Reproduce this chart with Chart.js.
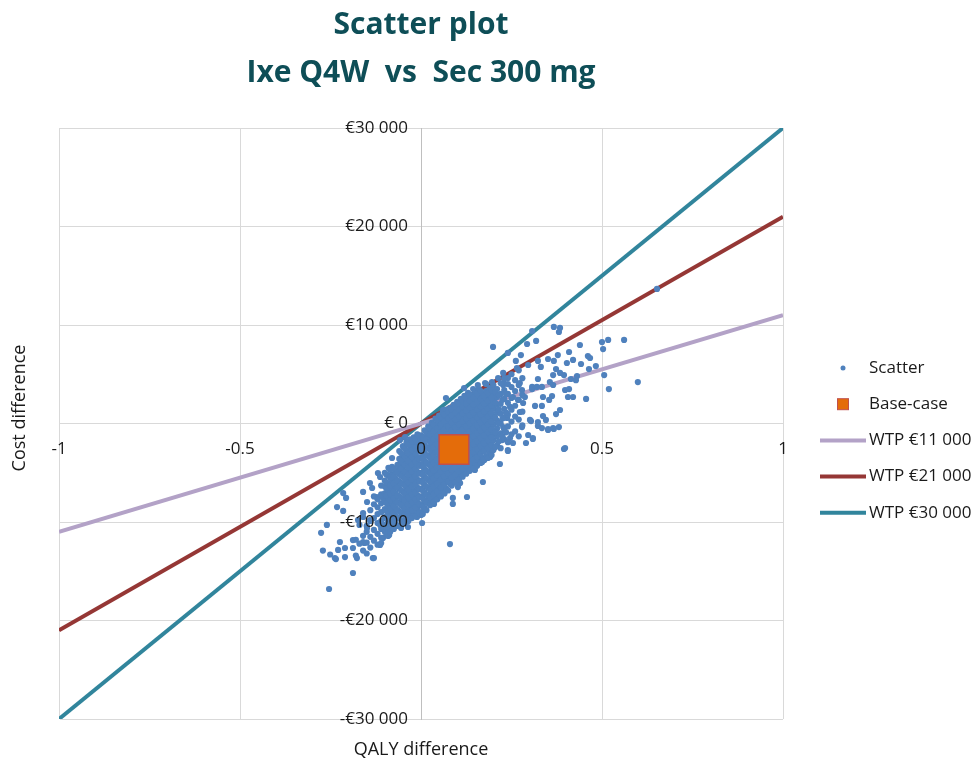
<!DOCTYPE html>
<html>
<head>
<meta charset="utf-8">
<title>Scatter plot - Ixe Q4W vs Sec 300 mg</title>
<script src="https://cdn.jsdelivr.net/npm/chart.js@4.4.1/dist/chart.umd.min.js"></script>
<style>
  html, body { margin: 0; padding: 0; background: #fff; }
</style>
</head>
<body>
<canvas id="psaChart" width="975" height="761"></canvas>
<script>
// PSA scatter plot, incremental QALY vs incremental cost

const chartTitle = ['Scatter plot', 'Ixe Q4W  vs  Sec 300 mg'];
const xAxisTitle = 'QALY difference';
const yAxisTitle = 'Cost difference';

const qalyTicks = [-1, -0.5, 0, 0.5, 1];
const costTicks = [-30000, -20000, -10000, 0, 10000, 20000, 30000];
const costTickLabels = ['-€30 000', '-€20 000', '-€10 000', '€ 0', '€10 000', '€20 000', '€30 000'];

const baseCase = [0.091, -2640];

const wtpNames = ['WTP €11 000', 'WTP €21 000', 'WTP €30 000'];
const wtpColors = ['#B3A2C7', '#953735', '#31859C'];
// each threshold line, its ends at QALY -1 and +1
const wtpLines = [
  [[-1, -11000], [1, 11000]],
  [[-1, -21000], [1, 21000]],
  [[-1, -30000], [1, 30000]]
];

// simulation runs: [QALY diff, cost diff in thousand €]
const psaRuns = [
  // sparse runs, upper right
  [0.652,13.66],[0.367,9.80],[0.384,9.70],[0.381,9.29],[0.307,9.39],[0.500,8.27],[0.517,8.48],[0.561,8.48],
  [0.503,7.56],[0.599,4.21],[0.519,3.50],[0.506,4.92],[0.293,8.07],[0.318,8.38],[0.439,7.97],[0.409,7.26],
  [0.378,6.95],[0.351,6.55],[0.262,6.35],[0.276,6.95],[0.296,5.94],[0.323,6.35],[0.367,6.35],[0.403,6.14],
  [0.420,6.45],[0.442,6.04],[0.461,6.85],[0.467,6.65],[0.464,5.53],[0.483,5.84],[0.240,7.16],[0.331,5.74],
  [0.373,5.53],[0.384,5.13],[0.395,4.92],[0.414,4.52],[0.431,4.82],[0.428,4.40],[0.365,4.92],[0.323,4.52],
  [0.356,4.21],[0.365,3.91],[0.307,3.71],[0.334,3.71],[0.398,3.40],[0.409,3.50],[0.406,2.69],[0.420,2.69],
  [0.456,2.49],[0.337,2.69],[0.362,2.79],[0.354,2.39],[0.315,1.78],[0.334,1.78],[0.337,0.76],[0.373,0.96],
  [0.384,1.37],[0.345,0.36],[0.351,-0.56],[0.367,-0.56],[0.381,-0.36],[0.309,-1.57],[0.304,0.25],[0.323,-0.25],
  [0.395,-2.59],[0.290,-1.98],[0.240,-2.69],[0.218,-4.11],
  [0.199,7.77],[0.069,2.59],[0.144,3.50],[0.157,3.91],[0.196,4.21],[0.213,4.62],[0.227,3.91],[0.119,3.60],
  [0.061,1.37],[0.080,1.07],[0.014,-1.37],[0.028,-1.07],
  [0.227,5.13],[0.177,4.11],[0.229,4.11],[0.240,4.62],[0.265,5.63],[0.273,4.11],[0.279,3.40],[0.287,2.69],
  [0.307,3.50],[0.320,3.71],[0.268,2.39],[0.282,2.08],[0.273,1.17],[0.254,2.69],[0.246,1.68],[0.238,0.56],
  [0.227,-0.36],[0.210,-1.17],[0.224,-1.68],[0.191,-2.69],[0.182,-3.40],[0.246,-1.47],[0.254,-1.98],[0.296,-1.17],
  [0.279,-0.36],[0.301,0.36],[0.309,-1.47],[0.334,-0.46],[0.351,-0.66],[0.365,-0.46],[0.398,-2.49],[0.323,0.15],
  [-0.058,-1.68],[-0.044,-1.37],[0.025,-0.66],[0.033,-0.46],[0.058,0.66],[0.072,0.36],[0.122,2.59],[0.141,2.89],
  [0.155,3.20],[0.099,1.88],
  // lower tail
  [-0.215,-7.06],[-0.232,-8.48],[-0.207,-7.56],[-0.160,-6.95],[-0.141,-6.04],[-0.119,-5.03],[-0.113,-5.43],
  [-0.135,-6.55],[-0.122,-7.46],[-0.105,-7.56],[-0.149,-7.97],[-0.160,-9.49],[-0.174,-9.80],[-0.141,-9.80],
  [-0.149,-10.61],[-0.113,-10.30],[-0.091,-10.51],[-0.224,-12.03],[-0.210,-12.64],[-0.229,-12.84],[-0.188,-12.64],
  [-0.160,-12.03],[-0.105,-11.62],[-0.091,-11.42],[-0.113,-12.33],[-0.238,-13.66],[-0.210,-13.56],[-0.177,-13.66],
  [-0.133,-13.66],[-0.188,-15.18],[-0.036,-10.51],[-0.052,-8.07],[-0.030,-7.46],[-0.011,-9.49],[0.003,-8.27],
  [0.003,-10.10],[-0.254,-16.80],[-0.130,-13.66],[0.080,-12.24],[-0.276,-11.10],[-0.260,-10.30],[-0.271,-12.90],
  [-0.251,-13.30],[-0.235,-13.76],[-0.188,-11.83],[-0.157,-12.13],[-0.110,-12.13],[-0.088,-11.32],[-0.030,-9.59],
  [0.000,-9.29],[-0.006,-8.38],[-0.215,-8.88],[0.036,-8.17],[0.025,-7.67],[0.061,-6.85],[0.088,-7.56],[0.088,-8.17],
  [0.127,-7.46],[0.171,-5.94],[0.240,-2.79],[0.191,-3.40],[0.169,-3.91],[0.144,-4.21],[0.149,-4.72],[0.108,-6.04],
  [0.102,-6.45],[0.061,-6.75],[0.044,-7.56],[0.033,-7.77],
  // dense core
  [-0.18,-13.4],[-0.18,-11.8],[-0.17,-12.2],[-0.17,-10.3],[-0.16,-12.9],[-0.16,-11.4],[-0.16,-9.1],
  [-0.15,-13.2],[-0.15,-12.1],[-0.15,-11.0],[-0.15,-10.4],
  [-0.14,-12.6],[-0.14,-11.5],[-0.14,-9.9],[-0.14,-8.8],
  [-0.13,-11.9],[-0.13,-10.8],[-0.13,-9.6],[-0.13,-8.2],[-0.13,-7.4],
  [-0.12,-12.3],[-0.12,-11.2],[-0.12,-10.1],[-0.12,-9.2],[-0.12,-8.5],[-0.12,-7.7],
  [-0.11,-11.6],[-0.11,-10.7],[-0.11,-9.9],[-0.11,-9.0],[-0.11,-8.1],[-0.11,-7.2],[-0.11,-6.3],
  [-0.10,-11.0],[-0.10,-10.3],[-0.10,-9.5],[-0.10,-8.7],[-0.10,-7.9],[-0.10,-7.1],[-0.10,-6.4],[-0.10,-5.8],[-0.10,-5.0],
  [-0.09,-10.8],[-0.09,-10.0],[-0.09,-9.2],[-0.09,-8.4],[-0.09,-7.6],[-0.09,-6.9],[-0.09,-6.1],[-0.09,-5.3],[-0.09,-4.5],
  [-0.08,-10.5],[-0.08,-9.7],[-0.08,-8.9],[-0.08,-8.2],[-0.08,-7.4],[-0.08,-6.7],[-0.08,-5.9],[-0.08,-5.2],[-0.08,-4.4],[-0.08,-3.5],
  [-0.07,-10.2],[-0.07,-9.4],[-0.07,-8.6],[-0.07,-7.8],[-0.07,-7.1],[-0.07,-6.3],[-0.07,-5.6],[-0.07,-4.8],
  [-0.06,-10.4],[-0.06,-9.6],[-0.06,-8.9],[-0.06,-8.1],[-0.06,-7.4],[-0.06,-6.6],[-0.06,-5.9],[-0.06,-5.1],[-0.06,-4.4],[-0.06,-3.6],[-0.06,-2.8],
  [-0.05,-9.9],[-0.05,-9.1],[-0.05,-8.4],[-0.05,-7.6],[-0.05,-6.9],[-0.05,-6.1],[-0.05,-5.4],[-0.05,-4.7],[-0.05,-4.0],[-0.05,-3.2],[-0.05,-2.3],
  [-0.04,-9.7],[-0.04,-8.8],[-0.04,-8.0],[-0.04,-7.3],[-0.04,-6.5],[-0.04,-5.8],[-0.04,-5.0],[-0.04,-4.3],[-0.04,-3.6],[-0.04,-2.8],[-0.04,-1.9],
  [-0.03,-9.4],[-0.03,-8.6],[-0.03,-7.8],[-0.03,-7.0],[-0.03,-6.2],[-0.03,-5.5],[-0.03,-4.7],[-0.03,-4.0],[-0.03,-3.2],[-0.03,-2.5],[-0.03,-1.6],
  [-0.02,-9.2],[-0.02,-8.3],[-0.02,-7.5],[-0.02,-6.8],[-0.02,-6.0],[-0.02,-5.2],[-0.02,-4.4],[-0.02,-3.7],[-0.02,-2.9],[-0.02,-2.2],[-0.02,-1.4],
  [-0.01,-8.9],[-0.01,-8.0],[-0.01,-7.3],[-0.01,-6.5],[-0.01,-5.7],[-0.01,-4.9],[-0.01,-4.1],[-0.01,-3.4],[-0.01,-2.6],[-0.01,-1.9],[-0.01,-1.1],
  [0.00,-9.0],[0.00,-8.2],[0.00,-7.4],[0.00,-6.6],[0.00,-5.8],[0.00,-5.0],[0.00,-4.2],[0.00,-3.4],[0.00,-2.6],[0.00,-1.8],[0.00,-1.2],
  [0.01,-8.6],[0.01,-7.8],[0.01,-7.0],[0.01,-6.2],[0.01,-5.4],[0.01,-4.6],[0.01,-3.8],[0.01,-3.0],[0.01,-2.2],[0.01,-1.4],[0.01,-0.7],
  [0.02,-8.1],[0.02,-7.3],[0.02,-6.5],[0.02,-5.7],[0.02,-4.9],[0.02,-4.1],[0.02,-3.3],[0.02,-2.5],[0.02,-1.7],[0.02,-0.9],[0.02,-0.3],
  [0.03,-7.8],[0.03,-7.0],[0.03,-6.2],[0.03,-5.4],[0.03,-4.6],[0.03,-3.8],[0.03,-3.0],[0.03,-2.2],[0.03,-1.4],[0.03,-0.6],[0.03,0.1],
  [0.04,-7.5],[0.04,-6.7],[0.04,-5.9],[0.04,-5.1],[0.04,-4.3],[0.04,-3.5],[0.04,-2.7],[0.04,-1.9],[0.04,-1.1],[0.04,-0.3],[0.04,0.5],
  [0.05,-7.2],[0.05,-6.3],[0.05,-5.5],[0.05,-4.7],[0.05,-3.9],[0.05,-3.1],[0.05,-2.3],[0.05,-1.5],[0.05,-0.7],[0.05,0.1],[0.05,0.8],
  [0.06,-6.9],[0.06,-6.0],[0.06,-5.2],[0.06,-4.4],[0.06,-3.6],[0.06,-2.8],[0.06,-2.0],[0.06,-1.2],[0.06,-0.4],[0.06,0.4],[0.06,1.1],
  [0.07,-6.6],[0.07,-5.7],[0.07,-4.9],[0.07,-4.1],[0.07,-3.3],[0.07,-2.5],[0.07,-1.7],[0.07,-0.9],[0.07,-0.1],[0.07,0.7],[0.07,1.4],
  [0.08,-6.1],[0.08,-5.3],[0.08,-4.5],[0.08,-3.7],[0.08,-2.9],[0.08,-2.1],[0.08,-1.3],[0.08,-0.5],[0.08,0.3],[0.08,1.0],[0.08,1.6],
  [0.09,-5.8],[0.09,-5.0],[0.09,-4.2],[0.09,-3.4],[0.09,-2.6],[0.09,-1.8],[0.09,-1.0],[0.09,-0.2],[0.09,0.6],[0.09,1.3],[0.09,1.9],
  [0.10,-5.5],[0.10,-4.7],[0.10,-3.9],[0.10,-3.1],[0.10,-2.3],[0.10,-1.5],[0.10,-0.7],[0.10,0.1],[0.10,0.9],[0.10,1.6],[0.10,2.2],
  [0.11,-5.2],[0.11,-4.4],[0.11,-3.6],[0.11,-2.8],[0.11,-2.0],[0.11,-1.2],[0.11,-0.4],[0.11,0.4],[0.11,1.2],[0.11,1.9],[0.11,2.5],
  [0.12,-4.9],[0.12,-4.1],[0.12,-3.3],[0.12,-2.5],[0.12,-1.7],[0.12,-0.9],[0.12,-0.1],[0.12,0.7],[0.12,1.5],[0.12,2.2],[0.12,2.8],
  [0.13,-4.6],[0.13,-3.8],[0.13,-3.0],[0.13,-2.2],[0.13,-1.4],[0.13,-0.6],[0.13,0.2],[0.13,1.0],[0.13,1.8],[0.13,2.5],[0.13,3.1],
  [0.14,-4.4],[0.14,-3.5],[0.14,-2.7],[0.14,-1.9],[0.14,-1.1],[0.14,-0.3],[0.14,0.5],[0.14,1.3],[0.14,2.1],[0.14,2.8],
  [0.15,-4.1],[0.15,-3.2],[0.15,-2.4],[0.15,-1.6],[0.15,-0.8],[0.15,0.0],[0.15,0.8],[0.15,1.6],[0.15,2.4],[0.15,3.2],
  [0.16,-3.8],[0.16,-2.9],[0.16,-2.1],[0.16,-1.3],[0.16,-0.5],[0.16,0.3],[0.16,1.1],[0.16,1.9],[0.16,2.7],[0.16,3.5],
  [0.17,-3.5],[0.17,-2.6],[0.17,-1.8],[0.17,-1.0],[0.17,-0.2],[0.17,0.6],[0.17,1.4],[0.17,2.2],[0.17,3.0],
  [0.18,-3.3],[0.18,-2.3],[0.18,-1.5],[0.18,-0.7],[0.18,0.1],[0.18,0.9],[0.18,1.7],[0.18,2.5],[0.18,3.3],[0.18,4.0],
  [0.19,-3.0],[0.19,-2.0],[0.19,-1.2],[0.19,-0.4],[0.19,0.4],[0.19,1.2],[0.19,2.0],[0.19,2.8],[0.19,3.6],
  [0.20,-2.7],[0.20,-1.7],[0.20,-0.9],[0.20,-0.1],[0.20,0.7],[0.20,1.5],[0.20,2.3],[0.20,3.1],[0.20,3.9],
  [0.21,-2.2],[0.21,-1.3],[0.21,-0.5],[0.21,0.3],[0.21,1.1],[0.21,1.9],[0.21,2.7],[0.21,3.5],
  [0.22,-2.5],[0.22,-1.0],[0.22,0.0],[0.22,1.0],[0.22,2.0],[0.22,3.0],[0.22,4.1],
  [0.23,-1.6],[0.23,-0.6],[0.23,0.6],[0.23,1.5],[0.23,2.5],[0.23,3.4],[0.23,4.6],
  [0.24,-1.9],[0.24,-0.3],[0.24,0.9],[0.24,2.1],[0.24,3.0],[0.24,4.0],
  [0.25,-1.1],[0.25,0.2],[0.25,1.4],[0.25,2.6],[0.25,3.7],[0.25,5.0],
  [0.26,-0.8],[0.26,0.7],[0.26,1.8],[0.26,3.3],[0.26,4.4],
  [0.27,-1.3],[0.27,0.4],[0.27,2.4],[0.27,3.9],[0.27,5.4],
  [0.28,-0.2],[0.28,1.2],[0.28,2.9],[0.28,4.6],
  // dense core, in-between runs
  [-0.095,-11.2],[-0.095,-10.5],[-0.095,-9.7],[-0.095,-8.9],[-0.095,-8.1],[-0.095,-7.3],[-0.095,-6.6],[-0.095,-6.0],[-0.095,-5.2],
  [-0.085,-11.0],[-0.085,-10.2],[-0.085,-9.4],[-0.085,-8.6],[-0.085,-7.8],[-0.085,-7.1],[-0.085,-6.3],[-0.085,-5.5],[-0.085,-4.7],
  [-0.075,-10.7],[-0.075,-9.9],[-0.075,-9.1],[-0.075,-8.4],[-0.075,-7.6],[-0.075,-6.9],[-0.075,-6.1],[-0.075,-5.4],[-0.075,-4.6],
  [-0.065,-10.4],[-0.065,-9.6],[-0.065,-8.8],[-0.065,-8.0],[-0.065,-7.3],[-0.065,-6.5],[-0.065,-5.8],[-0.065,-5.0],[-0.065,-4.2],
  [-0.055,-10.6],[-0.055,-9.8],[-0.055,-9.1],[-0.055,-8.3],[-0.055,-7.6],[-0.055,-6.8],[-0.055,-6.1],[-0.055,-5.3],[-0.055,-4.6],[-0.055,-3.8],[-0.055,-3.0],
  [-0.045,-10.1],[-0.045,-9.3],[-0.045,-8.6],[-0.045,-7.8],[-0.045,-7.1],[-0.045,-6.3],[-0.045,-5.6],[-0.045,-4.9],[-0.045,-4.2],[-0.045,-3.4],[-0.045,-2.5],
  [-0.035,-9.9],[-0.035,-9.0],[-0.035,-8.2],[-0.035,-7.5],[-0.035,-6.7],[-0.035,-6.0],[-0.035,-5.2],[-0.035,-4.5],[-0.035,-3.8],[-0.035,-3.0],[-0.035,-2.1],
  [-0.025,-9.6],[-0.025,-8.8],[-0.025,-8.0],[-0.025,-7.2],[-0.025,-6.4],[-0.025,-5.7],[-0.025,-4.9],[-0.025,-4.2],[-0.025,-3.4],[-0.025,-2.7],[-0.025,-1.8],
  [-0.015,-9.4],[-0.015,-8.5],[-0.015,-7.7],[-0.015,-7.0],[-0.015,-6.2],[-0.015,-5.4],[-0.015,-4.6],[-0.015,-3.9],[-0.015,-3.1],[-0.015,-2.4],[-0.015,-1.6],
  [-0.005,-9.1],[-0.005,-8.2],[-0.005,-7.5],[-0.005,-6.7],[-0.005,-5.9],[-0.005,-5.1],[-0.005,-4.3],[-0.005,-3.6],[-0.005,-2.8],[-0.005,-2.1],[-0.005,-1.3],
  [0.005,-9.2],[0.005,-8.4],[0.005,-7.6],[0.005,-6.8],[0.005,-6.0],[0.005,-5.2],[0.005,-4.4],[0.005,-3.6],[0.005,-2.8],[0.005,-2.0],[0.005,-1.4],
  [0.015,-8.8],[0.015,-8.0],[0.015,-7.2],[0.015,-6.4],[0.015,-5.6],[0.015,-4.8],[0.015,-4.0],[0.015,-3.2],[0.015,-2.4],[0.015,-1.6],[0.015,-0.9],
  [0.025,-8.3],[0.025,-7.5],[0.025,-6.7],[0.025,-5.9],[0.025,-5.1],[0.025,-4.3],[0.025,-3.5],[0.025,-2.7],[0.025,-1.9],[0.025,-1.1],[0.025,-0.5],
  [0.035,-8.0],[0.035,-7.2],[0.035,-6.4],[0.035,-5.6],[0.035,-4.8],[0.035,-4.0],[0.035,-3.2],[0.035,-2.4],[0.035,-1.6],[0.035,-0.8],[0.035,-0.1],
  [0.045,-7.7],[0.045,-6.9],[0.045,-6.1],[0.045,-5.3],[0.045,-4.5],[0.045,-3.7],[0.045,-2.9],[0.045,-2.1],[0.045,-1.3],[0.045,-0.5],[0.045,0.3],
  [0.055,-7.4],[0.055,-6.5],[0.055,-5.7],[0.055,-4.9],[0.055,-4.1],[0.055,-3.3],[0.055,-2.5],[0.055,-1.7],[0.055,-0.9],[0.055,-0.1],[0.055,0.6],
  [0.065,-7.1],[0.065,-6.2],[0.065,-5.4],[0.065,-4.6],[0.065,-3.8],[0.065,-3.0],[0.065,-2.2],[0.065,-1.4],[0.065,-0.6],[0.065,0.2],[0.065,0.9],
  [0.075,-6.8],[0.075,-5.9],[0.075,-5.1],[0.075,-4.3],[0.075,-3.5],[0.075,-2.7],[0.075,-1.9],[0.075,-1.1],[0.075,-0.3],[0.075,0.5],[0.075,1.2],
  [0.085,-6.3],[0.085,-5.5],[0.085,-4.7],[0.085,-3.9],[0.085,-3.1],[0.085,-2.3],[0.085,-1.5],[0.085,-0.7],[0.085,0.1],[0.085,0.8],[0.085,1.4],
  [0.095,-6.0],[0.095,-5.2],[0.095,-4.4],[0.095,-3.6],[0.095,-2.8],[0.095,-2.0],[0.095,-1.2],[0.095,-0.4],[0.095,0.4],[0.095,1.1],[0.095,1.7],
  [0.105,-5.7],[0.105,-4.9],[0.105,-4.1],[0.105,-3.3],[0.105,-2.5],[0.105,-1.7],[0.105,-0.9],[0.105,-0.1],[0.105,0.7],[0.105,1.4],[0.105,2.0],
  [0.115,-5.4],[0.115,-4.6],[0.115,-3.8],[0.115,-3.0],[0.115,-2.2],[0.115,-1.4],[0.115,-0.6],[0.115,0.2],[0.115,1.0],[0.115,1.7],[0.115,2.3],
  [0.125,-5.1],[0.125,-4.3],[0.125,-3.5],[0.125,-2.7],[0.125,-1.9],[0.125,-1.1],[0.125,-0.3],[0.125,0.5],[0.125,1.3],[0.125,2.0],[0.125,2.6],
  [0.135,-4.8],[0.135,-4.0],[0.135,-3.2],[0.135,-2.4],[0.135,-1.6],[0.135,-0.8],[0.135,0.0],[0.135,0.8],[0.135,1.6],[0.135,2.3],[0.135,2.9],
  [0.145,-4.6],[0.145,-3.7],[0.145,-2.9],[0.145,-2.1],[0.145,-1.3],[0.145,-0.5],[0.145,0.3],[0.145,1.1],[0.145,1.9],[0.145,2.6],
  [0.155,-4.3],[0.155,-3.4],[0.155,-2.6],[0.155,-1.8],[0.155,-1.0],[0.155,-0.2],[0.155,0.6],[0.155,1.4],[0.155,2.2],[0.155,3.0],
  [0.165,-4.0],[0.165,-3.1],[0.165,-2.3],[0.165,-1.5],[0.165,-0.7],[0.165,0.1],[0.165,0.9],[0.165,1.7],[0.165,2.5],[0.165,3.3],
  [0.175,-3.7],[0.175,-2.8],[0.175,-2.0],[0.175,-1.2],[0.175,-0.4],[0.175,0.4],[0.175,1.2],[0.175,2.0],[0.175,2.8],
  [0.185,-3.5],[0.185,-2.5],[0.185,-1.7],[0.185,-0.9],[0.185,-0.1],[0.185,0.7],[0.185,1.5],[0.185,2.3],[0.185,3.1],
  [0.195,-3.2],[0.195,-2.2],[0.195,-1.4],[0.195,-0.6],[0.195,0.2],[0.195,1.0],[0.195,1.8],[0.195,2.6],[0.195,3.4],
  [0.205,-2.4],[0.205,-0.9],[0.205,0.6],[0.205,2.1],[0.205,3.2],[0.215,-1.8],[0.215,0.0],[0.215,1.4],[0.215,2.9],
  [0.225,-1.3],[0.225,0.5],[0.225,2.4],[0.235,-0.9],[0.235,1.1],[0.235,3.0]
];

const fontFamily = '"Open Sans", "Liberation Sans", sans-serif';
const textColor = '#1a1a1a';

// the cost axis is laid out on the left, then its right edge is moved onto QALY = 0
const yAxisAtZero = {
  id: 'yAxisAtZero',
  afterLayout(chart) {
    const y = chart.scales.y;
    y.left = 0;
    y.right = chart.scales.x.getPixelForValue(0);
  }
};

// axis names, drawn by hand because the axes sit in the middle of the plot
const axisTitles = {
  id: 'axisTitles',
  afterDraw(chart) {
    const ctx = chart.ctx;
    const area = chart.chartArea;
    ctx.save();
    ctx.font = '18px ' + fontFamily;
    ctx.fillStyle = textColor;
    ctx.textAlign = 'center';
    ctx.textBaseline = 'middle';
    ctx.fillText(xAxisTitle, chart.scales.x.getPixelForValue(0), area.bottom + 31);
    ctx.translate(20, 408);
    ctx.rotate(-Math.PI / 2);
    ctx.fillText(yAxisTitle, 0, 0);
    ctx.restore();
  }
};

// legend on the right, one row per dataset
const sideLegend = {
  id: 'sideLegend',
  afterDraw(chart) {
    const ctx = chart.ctx;
    const cx = 843, textX = 869, top = 368, step = 36.2;
    ctx.save();
    ctx.font = '17px ' + fontFamily;
    ctx.textBaseline = 'middle';
    chart.data.datasets.forEach((ds, i) => {
      const y = top + i * step;
      if (ds.type === 'line') {
        ctx.strokeStyle = ds.borderColor;
        ctx.lineWidth = 4;
        ctx.beginPath();
        ctx.moveTo(cx - 23, y);
        ctx.lineTo(cx + 23, y);
        ctx.stroke();
      } else if (ds.pointStyle === 'rect') {
        ctx.fillStyle = ds.backgroundColor;
        ctx.fillRect(cx - 5.5, y - 5.5, 11, 11);
        ctx.strokeStyle = ds.borderColor;
        ctx.lineWidth = 1;
        ctx.strokeRect(cx - 5.5, y - 5.5, 11, 11);
      } else {
        ctx.fillStyle = ds.backgroundColor;
        ctx.beginPath();
        ctx.arc(cx, y, 2.5, 0, Math.PI * 2);
        ctx.fill();
      }
      ctx.fillStyle = textColor;
      ctx.fillText(ds.label, textX, y);
    });
    ctx.restore();
  }
};

const datasets = [
  {
    label: 'Scatter',
    data: psaRuns.map(r => ({ x: r[0], y: r[1] * 1000 })),
    backgroundColor: '#4F81BD',
    borderWidth: 0,
    pointRadius: 3.1,
    order: 1
  },
  {
    label: 'Base-case',
    data: [{ x: baseCase[0], y: baseCase[1] }],
    pointStyle: 'rect',
    pointRadius: 21,
    backgroundColor: '#E46C0A',
    borderColor: '#C0504D',
    borderWidth: 1.5,
    order: 0
  }
];
wtpLines.forEach((ends, i) => {
  datasets.push({
    type: 'line',
    label: wtpNames[i],
    data: ends.map(p => ({ x: p[0], y: p[1] })),
    borderColor: wtpColors[i],
    borderWidth: 4,
    pointRadius: 0,
    fill: false,
    order: 2
  });
});

new Chart(document.getElementById('psaChart'), {
  type: 'scatter',
  data: { datasets },
  options: {
    responsive: false,
    animation: false,
    events: [],
    layout: { padding: { left: 59, right: 192, top: 0, bottom: 42 } },
    plugins: {
      legend: { display: false },
      tooltip: { enabled: false },
      title: {
        display: true,
        text: chartTitle,
        fullSize: false,
        color: '#0E4E57',
        font: { family: fontFamily, size: 30, weight: 'bold', lineHeight: 1.6 },
        padding: { top: 1, bottom: 31 }
      }
    },
    scales: {
      x: {
        type: 'linear',
        min: -1,
        max: 1,
        position: { y: 0 },
        afterFit: s => { s.height = 0; },
        afterBuildTicks: s => { s.ticks = qalyTicks.map(v => ({ value: v })); },
        grid: { color: '#D9D9D9', drawTicks: false },
        border: { color: '#D9D9D9' },
        ticks: {
          z: 1,
          padding: 15,
          color: textColor,
          font: { family: fontFamily, size: 17 },
          callback: v => String(v)
        }
      },
      y: {
        type: 'linear',
        min: -30000,
        max: 30000,
        position: 'left',
        afterFit: s => { s.width = 0; },
        afterBuildTicks: s => { s.ticks = costTicks.map(v => ({ value: v })); },
        grid: { color: '#D9D9D9', drawTicks: false },
        border: { color: '#BFBFBF' },
        ticks: {
          z: 1,
          padding: 13,
          color: textColor,
          font: { family: fontFamily, size: 17 },
          callback: v => costTickLabels[costTicks.indexOf(v)]
        }
      }
    }
  },
  plugins: [yAxisAtZero, axisTitles, sideLegend]
});
</script>
</body>
</html>
